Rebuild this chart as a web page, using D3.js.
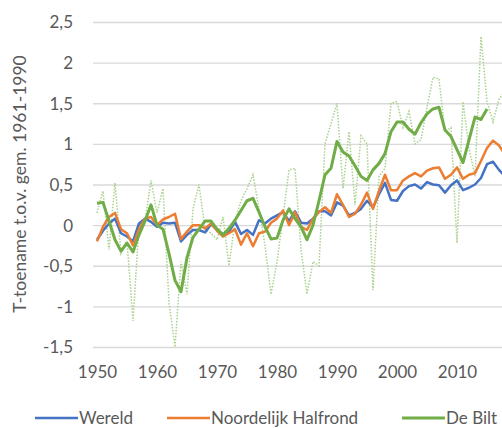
<!DOCTYPE html>
<html>
<head>
<meta charset="utf-8">
<script src="https://cdn.jsdelivr.net/npm/d3@7"></script>
<style>
  body { margin: 0; background: #fff; }
  svg { display: block; }
  .tick text { font-family: Lato, 'Open Sans', sans-serif; fill: #595959; }
</style>
</head>
<body>
<div class="chart"></div>
<script>
// // Data
const years = d3.range(1950, 2019);

// Wereld
const wereld = [-0.18, -0.07, 0.02, 0.08, -0.1, -0.14, -0.2, 0.02, 0.08, 0.04,
  -0.02, 0.03, 0.02, 0.03, -0.2, -0.12, -0.06, -0.06, -0.09, 0.01,
  -0.05, -0.12, -0.08, 0.04, -0.11, -0.06, -0.12, 0.06, 0.02, 0.08,
  0.12, 0.16, 0.05, 0.17, 0.03, 0.02, 0.08, 0.17, 0.17, 0.12,
  0.28, 0.24, 0.12, 0.15, 0.2, 0.3, 0.22, 0.38, 0.52, 0.31,
  0.3, 0.42, 0.48, 0.5, 0.45, 0.53, 0.5, 0.49, 0.4, 0.49,
  0.55, 0.43, 0.46, 0.5, 0.58, 0.75, 0.78, 0.68, 0.6];

// Noordelijk Halfrond
const noordelijk = [-0.2, -0.02, 0.1, 0.15, -0.05, -0.1, -0.25, -0.05, 0.08, 0.1,
  0.0, 0.07, 0.1, 0.14, -0.17, -0.08, 0.0, 0.0, -0.04, 0.02,
  -0.07, -0.14, -0.1, -0.05, -0.24, -0.1, -0.26, -0.1, -0.08, 0.03,
  0.08, 0.18, 0.0, 0.16, -0.02, -0.06, 0.08, 0.16, 0.22, 0.15,
  0.38, 0.25, 0.1, 0.14, 0.25, 0.4, 0.2, 0.42, 0.62, 0.43,
  0.43, 0.55, 0.6, 0.64, 0.6, 0.67, 0.7, 0.71, 0.57, 0.62,
  0.71, 0.57, 0.62, 0.64, 0.79, 0.95, 1.04, 0.98, 0.87];

// De Bilt (gladgestreken, 1950-2015)
const deBilt = [0.27, 0.28, 0.05, -0.18, -0.32, -0.22, -0.33, -0.12, 0.05, 0.25,
  0.0, -0.05, -0.35, -0.68, -0.82, -0.4, -0.15, -0.05, 0.05, 0.05,
  -0.05, -0.12, -0.04, 0.06, 0.18, 0.3, 0.33, 0.16, -0.02, -0.17,
  -0.16, 0.06, 0.2, 0.08, -0.02, -0.18, 0.0, 0.3, 0.62, 0.7,
  1.03, 0.9, 0.85, 0.73, 0.6, 0.55, 0.68, 0.76, 0.88, 1.15,
  1.27, 1.27, 1.18, 1.12, 1.26, 1.37, 1.43, 1.45, 1.17, 1.09,
  0.93, 0.77, 1.05, 1.33, 1.3, 1.43];

// De Bilt jaarwaarden (stippellijn)
const deBiltJaar = [0.15, 0.42, -0.3, 0.52, -0.35, -0.2, -1.18, 0.0, 0.05, 0.55,
  0.15, 0.45, -0.95, -1.5, -0.45, -0.85, 0.2, 0.5, -0.05, -0.1,
  -0.18, 0.1, -0.5, 0.05, 0.3, 0.45, 0.62, 0.2, -0.25, -0.85,
  -0.45, 0.1, 0.68, 0.7, -0.3, -0.85, -0.45, -0.5, 1.0, 1.25,
  1.5, 0.45, 1.15, 0.25, 1.1, 1.0, -0.8, 0.6, 0.7, 1.5,
  1.52, 1.2, 1.4, 1.0, 1.05, 1.45, 1.82, 1.8, 1.15, 1.2,
  -0.22, 1.52, 0.95, 0.6, 2.32, 1.52, 1.27, 1.55, 1.65];

const yTicks = [-1.5, -1, -0.5, 0, 0.5, 1, 1.5, 2, 2.5];
const xTicks = [1950, 1960, 1970, 1980, 1990, 2000, 2010];

const legendItems = [
  {name: 'Wereld', color: '#4472C4'},
  {name: 'Noordelijk Halfrond', color: '#ED7D31'},
  {name: 'De Bilt', color: '#70AD47'}
];

// // Canvas
const svg_width = 502;
const svg_height = 428;
const plot = {left: 93, top: 22, bottom: 347};

const svg = d3.select('.chart').append('svg')
  .attr('width', svg_width).attr('height', svg_height);

// // Scales
// one year = 6px, 1950 sits half a step right of the plot edge
const xScale = d3.scaleLinear([1950, 2018], [97, 97 + 68 * 6]);
const yScale = d3.scaleLinear([-1.5, 2.5], [plot.bottom, plot.top]);

// // Grid + y labels
const fmt = d => String(d).replace('.', ',');
const yAxis = d3.axisLeft(yScale).tickValues(yTicks).tickFormat(fmt)
  .tickSize(-(svg_width - plot.left + 10)).tickPadding(20);
const yAxisDraw = svg.append('g').attr('transform', `translate(${plot.left},0)`).call(yAxis);
yAxisDraw.select('.domain').remove();
yAxisDraw.selectAll('line').attr('stroke', '#D9D9D9').attr('stroke-width', 1.3);
yAxisDraw.selectAll('text').style('font-size', '17px').attr('dy', '0.35em');

// x labels
const xAxis = d3.axisBottom(xScale).tickValues(xTicks).tickFormat(d3.format('d'))
  .tickSize(0).tickPadding(19);
const xAxisDraw = svg.append('g').attr('transform', `translate(0,${plot.bottom})`).call(xAxis);
xAxisDraw.select('.domain').remove();
xAxisDraw.selectAll('text').style('font-size', '17px');

// y title
svg.append('text')
  .attr('transform', `translate(26,184) rotate(-90)`)
  .attr('text-anchor', 'middle')
  .style('font-family', "Lato, 'Open Sans', sans-serif")
  .style('font-size', '17.5px')
  .style('fill', '#595959')
  .text('T-toename t.o.v. gem. 1961-1990');

// // Lines
const line = d3.line().x((d, i) => xScale(years[i])).y(d => yScale(d));

const lines = svg.append('g');
lines.append('path').datum(deBiltJaar).attr('d', line)
  .attr('fill', 'none').attr('stroke', '#A9D18E').attr('stroke-width', 1.5)
  .attr('stroke-dasharray', '1.5 1.5');
lines.append('path').datum(wereld).attr('d', line)
  .attr('fill', 'none').attr('stroke', '#4472C4').attr('stroke-width', 2.5)
  .attr('stroke-linejoin', 'round');
lines.append('path').datum(noordelijk).attr('d', line)
  .attr('fill', 'none').attr('stroke', '#ED7D31').attr('stroke-width', 2.5)
  .attr('stroke-linejoin', 'round');
lines.append('path').datum(deBilt).attr('d', line)
  .attr('fill', 'none').attr('stroke', '#70AD47').attr('stroke-width', 3)
  .attr('stroke-linejoin', 'round');

// // Legend
const legendX = [35, 167, 402];
const legend = svg.append('g').selectAll('g').data(legendItems).join('g')
  .attr('transform', (d, i) => `translate(${legendX[i]},418)`);
legend.append('line').attr('x1', 0).attr('x2', 43)
  .attr('stroke', d => d.color).attr('stroke-width', d => d.name === 'De Bilt' ? 3 : 2.5);
legend.append('text').attr('x', 44).attr('dy', '0.35em')
  .style('font-family', "Lato, 'Open Sans', sans-serif")
  .style('font-size', '17px').style('fill', '#595959')
  .text(d => d.name);
</script>
</body>
</html>
